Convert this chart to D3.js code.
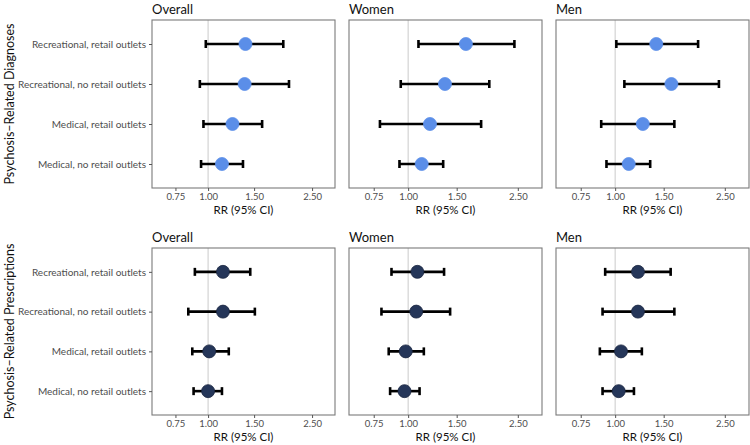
<!DOCTYPE html>
<html>
<head>
<meta charset="utf-8">
<script src="https://cdn.jsdelivr.net/npm/d3@7"></script>
<style>
  html, body { margin: 0; padding: 0; background: #ffffff; }
  svg { display: block; font-family: Lato, "Open Sans", sans-serif; }
</style>
</head>
<body>
<svg id="chart" width="750" height="445"></svg>
<script>
// ---------------- data ----------------
const categories = [
  "Recreational, retail outlets",
  "Recreational, no retail outlets",
  "Medical, retail outlets",
  "Medical, no retail outlets"
];
const groups = ["Overall", "Women", "Men"];
const outcomes = ["Psychosis\u2013Related Diagnoses", "Psychosis\u2013Related Prescriptions"];
const xTickValues = [0.75, 1.00, 1.50, 2.50];
const xTickLabels = ["0.75", "1.00", "1.50", "2.50"];
const xDomain = [0.61, 3.06];
const xTitle = "RR (95% CI)";

// each row: [RR, lower CI, upper CI], in category order
const diagOverall = [[1.39, 0.98, 1.94], [1.38, 0.93, 2.04], [1.24, 0.96, 1.61], [1.13, 0.94, 1.36]];
const diagWomen   = [[1.62, 1.09, 2.43], [1.36, 0.94, 1.97], [1.20, 0.79, 1.84], [1.12, 0.93, 1.34]];
const diagMen     = [[1.41, 1.01, 2.00], [1.60, 1.08, 2.38], [1.26, 0.89, 1.64], [1.12, 0.93, 1.34]];
const rxOverall   = [[1.14, 0.89, 1.45], [1.14, 0.84, 1.51], [1.01, 0.87, 1.20], [1.00, 0.88, 1.13]];
const rxWomen     = [[1.08, 0.87, 1.35], [1.07, 0.80, 1.42], [0.98, 0.85, 1.14], [0.97, 0.86, 1.10]];
const rxMen       = [[1.21, 0.92, 1.59], [1.21, 0.90, 1.64], [1.05, 0.88, 1.25], [1.03, 0.90, 1.17]];

const panelData = [
  [diagOverall, diagWomen, diagMen],
  [rxOverall, rxWomen, rxMen]
];
const pointColors = ["#5b8ee8", "#253659"];

// ---------------- layout ----------------
const colX = [[152, 335], [349, 542], [556, 749]];
const rowY = [[20, 188], [248, 415]];

const svg = d3.select("#chart");

outcomes.forEach((outcome, r) => {
  const [y0, y1] = rowY[r];
  const y = d3.scalePoint().domain(categories).range([y0, y1]).padding(0.6);

  // y-axis title
  svg.append("text")
    .attr("transform", `translate(14,${(y0 + y1) / 2}) rotate(-90)`)
    .attr("text-anchor", "middle")
    .attr("font-size", 12.5)
    .attr("fill", "#111")
    .text(outcome);

  groups.forEach((group, c) => {
    const [x0, x1] = colX[c];
    const x = d3.scaleLog().domain(xDomain).range([x0, x1]);
    const g = svg.append("g");

    // reference line at 1
    g.append("line")
      .attr("x1", x(1)).attr("x2", x(1))
      .attr("y1", y0).attr("y2", y1)
      .attr("stroke", "#cfcfcf").attr("stroke-width", 1.1);

    // panel border
    g.append("rect")
      .attr("x", x0).attr("y", y0)
      .attr("width", x1 - x0).attr("height", y1 - y0)
      .attr("fill", "none").attr("stroke", "#7a7a7a").attr("stroke-width", 1.1);

    // panel title
    svg.append("text")
      .attr("x", x0).attr("y", y0 - 6)
      .attr("font-size", 13)
      .attr("fill", "#111")
      .text(group);

    // x axis
    const xAxis = d3.axisBottom(x)
      .tickValues(xTickValues)
      .tickFormat((d, i) => xTickLabels[i])
      .tickSize(3).tickPadding(2);
    const ax = svg.append("g").attr("transform", `translate(0,${y1})`).call(xAxis);
    ax.select(".domain").remove();
    ax.selectAll(".tick line").attr("stroke", "#555");
    ax.selectAll(".tick text").attr("fill", "#4d4d4d").attr("font-size", 9.5)
      .attr("font-family", "Lato, 'Open Sans', sans-serif");

    svg.append("text")
      .attr("x", (x0 + x1) / 2).attr("y", y1 + 26)
      .attr("text-anchor", "middle")
      .attr("font-size", 11.5)
      .attr("fill", "#111")
      .text(xTitle);

    // y axis only on first column
    if (c === 0) {
      const yAxis = d3.axisLeft(y).tickSize(3).tickPadding(3);
      const ay = svg.append("g").attr("transform", `translate(${x0},0)`).call(yAxis);
      ay.select(".domain").remove();
      ay.selectAll(".tick line").attr("stroke", "#555");
      ay.selectAll(".tick text").attr("fill", "#4d4d4d").attr("font-size", 10)
        .attr("font-family", "Lato, 'Open Sans', sans-serif");
    }

    const rows = panelData[r][c].map((v, i) => ({ cat: categories[i], rr: v[0], lo: v[1], hi: v[2] }));
    const capH = 4;

    const eb = g.selectAll(".eb").data(rows).enter().append("g");
    eb.append("line")
      .attr("x1", d => x(d.lo)).attr("x2", d => x(d.hi))
      .attr("y1", d => y(d.cat)).attr("y2", d => y(d.cat))
      .attr("stroke", "#000").attr("stroke-width", 2.6);
    eb.append("line")
      .attr("x1", d => x(d.lo)).attr("x2", d => x(d.lo))
      .attr("y1", d => y(d.cat) - capH).attr("y2", d => y(d.cat) + capH)
      .attr("stroke", "#000").attr("stroke-width", 2.6);
    eb.append("line")
      .attr("x1", d => x(d.hi)).attr("x2", d => x(d.hi))
      .attr("y1", d => y(d.cat) - capH).attr("y2", d => y(d.cat) + capH)
      .attr("stroke", "#000").attr("stroke-width", 2.6);
    eb.append("circle")
      .attr("cx", d => x(d.rr)).attr("cy", d => y(d.cat))
      .attr("r", 6.5)
      .attr("fill", pointColors[r])
      .attr("stroke", r === 0 ? "#5b8ee8" : "#1a2640").attr("stroke-width", 0.8);
  });
});
</script>
</body>
</html>
